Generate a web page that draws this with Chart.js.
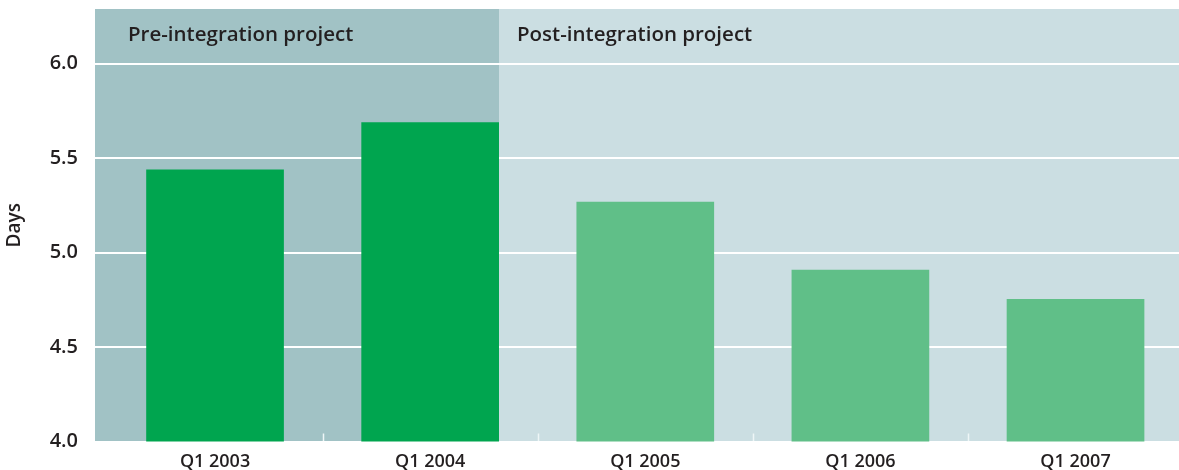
<!DOCTYPE html>
<html>
<head>
<meta charset="utf-8">
<script src="https://cdn.jsdelivr.net/npm/chart.js@4.4.1/dist/chart.umd.min.js"></script>
<style>
  html, body { margin: 0; padding: 0; background: #ffffff; overflow: hidden; }
  #wrap { width: 1179px; height: 470px; position: relative; }
</style>
</head>
<body>
<div id="wrap"><canvas id="c" width="1179" height="470"></canvas></div>
<script>
// ---- Data ----
const categories = ["Q1 2003", "Q1 2004", "Q1 2005", "Q1 2006", "Q1 2007"];
const days = [5.44, 5.69, 5.27, 4.91, 4.755];
const phase = ["pre", "pre", "post", "post", "post"];
const yTicks = [4.0, 4.5, 5.0, 5.5, 6.0];
const yMin = 4.0;
const yMax = 6.29;
const headers = { pre: "Pre-integration project", post: "Post-integration project" };
const yTitle = "Days";

// ---- Styles ----
const TEXT = "#231f20";
const FONT = "'Open Sans', 'DejaVu Sans', sans-serif";
const barColors = { pre: "#00a54f", post: "#60bf88" };
const bgColors = { pre: "#a1c2c5", post: "#cbdee2" };

const points = days.map((v, i) => ({ x: i, y: v }));

const backdrop = {
  id: "backdrop",
  beforeDraw(chart) {
    const { ctx, chartArea: a, scales } = chart;
    const meta = chart.getDatasetMeta(0);
    let lastPre = -1;
    phase.forEach((p, i) => { if (p === "pre") lastPre = i; });
    const el = meta.data[lastPre];
    const split = el.x + el.width / 2;
    ctx.save();
    ctx.fillStyle = bgColors.post;
    ctx.fillRect(a.left, a.top, a.right - a.left, a.bottom - a.top);
    ctx.fillStyle = bgColors.pre;
    ctx.fillRect(a.left, a.top, split - a.left, a.bottom - a.top);
    ctx.strokeStyle = "#eef6f7";
    ctx.lineWidth = 1.5;
    for (let i = 0; i < categories.length - 1; i++) {
      const x = Math.round(scales.x.getPixelForValue(i + 0.5)) + 0.5;
      ctx.beginPath();
      ctx.moveTo(x, a.bottom);
      ctx.lineTo(x, a.bottom - 8);
      ctx.stroke();
    }
    ctx.fillStyle = TEXT;
    ctx.font = "600 20.5px " + FONT;
    ctx.textBaseline = "alphabetic";
    ctx.textAlign = "left";
    ctx.fillText(headers.pre, a.left + 33, a.top + 32);
    ctx.fillText(headers.post, split + 18, a.top + 32);
    ctx.restore();
  }
};

new Chart(document.getElementById("c"), {
  type: "bar",
  data: {
    datasets: [{
      data: points,
      backgroundColor: phase.map(p => barColors[p]),
      borderWidth: 0,
      barPercentage: 0.8,
      categoryPercentage: 0.8
    }]
  },
  options: {
    responsive: false,
    animation: false,
    devicePixelRatio: 1,
    layout: { padding: { top: 9, right: 0, left: 0, bottom: 0 } },
    plugins: { legend: { display: false }, tooltip: { enabled: false } },
    scales: {
      x: {
        type: "linear",
        offset: false,
        min: -0.558,
        max: 4.481,
        grid: { display: false, drawTicks: false, offset: false },
        border: { display: false },
        afterBuildTicks: (s) => { s.ticks = categories.map((_, i) => ({ value: i })); },
        afterFit: (s) => { s.height = 28.5; s.paddingLeft = 0; s.paddingRight = 0; },
        ticks: {
          autoSkip: false,
          maxRotation: 0,
          padding: 10,
          color: TEXT,
          font: { family: FONT, size: 18, weight: "600" },
          callback: (v) => categories[v] ?? ""
        }
      },
      y: {
        min: yMin,
        max: yMax,
        grid: { color: "#ffffff", lineWidth: 2, drawTicks: false },
        border: { display: false },
        afterBuildTicks: (s) => { s.ticks = yTicks.map(v => ({ value: v })); },
        afterFit: (s) => { s.width = 95; s.paddingTop = 0; s.paddingBottom = 0; },
        ticks: {
          padding: 17,
          color: TEXT,
          font: { family: FONT, size: 20, weight: "600" },
          callback: (v) => v.toFixed(1)
        },
        title: {
          display: true,
          text: yTitle,
          color: TEXT,
          padding: { top: 3, bottom: 0 },
          font: { family: FONT, size: 19, weight: "600" }
        }
      }
    }
  },
  plugins: [backdrop]
});
</script>
</body>
</html>
